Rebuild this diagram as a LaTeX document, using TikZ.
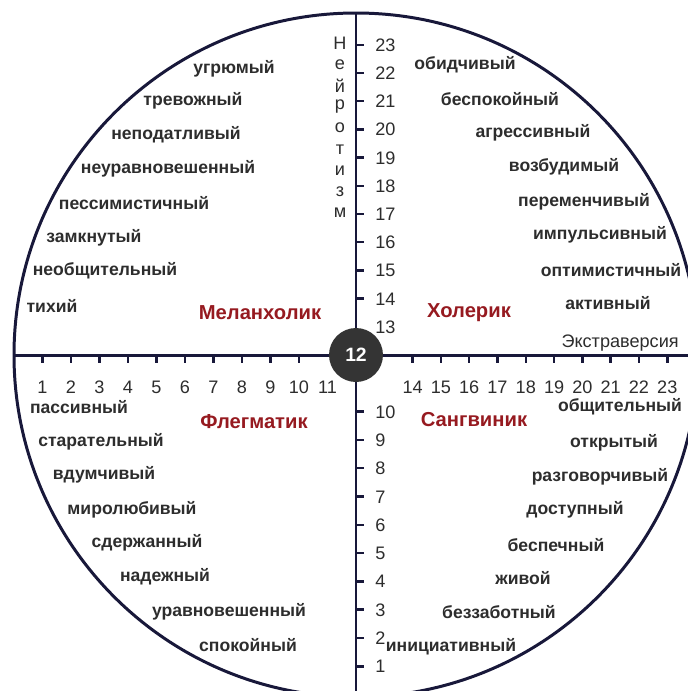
\documentclass[tikz,border=0pt]{standalone}
\usepackage{fontspec}
\setmainfont{Liberation Sans}
\definecolor{navy}{RGB}{24,24,58}
\definecolor{ink}{RGB}{45,45,45}
\definecolor{wine}{RGB}{150,26,32}
\definecolor{disc}{RGB}{52,52,52}
\usetikzlibrary{positioning}

\begin{document}
\begin{tikzpicture}[x=0.02cm,y=-0.02cm,
    trait/.style={text=ink,font=\fontsize{10}{12}\selectfont\bfseries,inner sep=0pt},
    temper/.style={text=wine,font=\fontsize{11.5}{13}\selectfont\bfseries,inner sep=0pt},
    num/.style={text=ink,font=\fontsize{10.3}{12}\selectfont,inner sep=0pt,
      text height=7.4pt,text depth=0pt},
    axis/.style={navy,line width=1.7pt},
    notch/.style={navy,line width=1.4pt}]

    \clip (0,0) rectangle (688,691);
    \fill[white] (0,0) rectangle (688,691);

    \draw[axis] (356,355) circle[radius=342];
    \draw[axis] (356,13) -- (356,697);
    \draw[axis] (14,355) -- (698,355);

    % scale of neuroticism
    \foreach \v in {14,...,23}
      \draw[notch] (356,{355-(\v-12)*28.2}) -- ++(8,0);
    \foreach \v in {13,...,23}
      \node[num,anchor=west] (ny\v) at (375,{355-(\v-12)*28.2}) {\v};
    \foreach \v in {1,...,10}{
      \draw[notch] (356,{355+(12-\v)*28.3}) -- ++(8,0);
      \node[num,anchor=west] (ny\v) at (375,{355+(12-\v)*28.3}) {\v};
    }
    \foreach \c [count=\i] in {Н,е,й,р,о,т,и,з,м}
      \node[num,text height=,text depth=] (nl\i) at (340,{43+(\i-1)*21.25}) {\c};

    % scale of extraversion
    \foreach \v in {1,...,10}
      \draw[notch] ({356-(12-\v)*28.5},355) -- ++(0,8);
    \foreach \v in {1,...,11}
      \node[num] (nx\v) at ({356-(12-\v)*28.5},387) {\v};
    \foreach \v in {14,...,23}{
      \draw[notch] ({356+(\v-12)*28.3},355) -- ++(0,8);
      \node[num] (nx\v) at ({356+(\v-12)*28.3},387) {\v};
    }
    \node[num,anchor=east,text height=,text depth=] (extra) at (679,343) {Экстраверсия};

    \node[circle,fill=disc,minimum size=1.08cm,inner sep=0pt,text=white,
      font=\fontsize{11}{13}\selectfont\bfseries] (mid) at (356,355) {12};

    \node[temper] (melan) at (260,313) {Меланхолик};
    \node[temper] (chol) at (469,313) {Холерик};
    \node[temper] (phleg) at (254,422) {Флегматик};
    \node[temper] (sang) at (474,420) {Сангвиник};

    \node[trait] (m1) at (234,69) {угрюмый};
    \node[trait] (m2) at (193,101) {тревожный};
    \node[trait] (m3) at (176,135) {неподатливый};
    \node[trait] (m4) at (168,169) {неуравновешенный};
    \node[trait] (m5) at (134,203) {пессимистичный};
    \node[trait] (m6) at (94,238) {замкнутый};
    \node[trait] (m7) at (105,271) {необщительный};
    \node[trait] (m8) at (52,306) {тихий};

    \node[trait] (c1) at (465,65) {обидчивый};
    \node[trait] (c2) at (500,99) {беспокойный};
    \node[trait] (c3) at (533,133) {агрессивный};
    \node[trait] (c4) at (564,167) {возбудимый};
    \node[trait] (c5) at (584,202) {переменчивый};
    \node[trait] (c6) at (600,235) {импульсивный};
    \node[trait] (c7) at (611,270) {оптимистичный};
    \node[trait] (c8) at (608,303) {активный};

    \node[trait] (p1) at (79,407) {пассивный};
    \node[trait] (p2) at (101,442) {старательный};
    \node[trait] (p3) at (104,475) {вдумчивый};
    \node[trait] (p4) at (132,510) {миролюбивый};
    \node[trait] (p5) at (147,543) {сдержанный};
    \node[trait] (p6) at (165,577) {надежный};
    \node[trait] (p7) at (229,612) {уравновешенный};
    \node[trait] (p8) at (248,645) {спокойный};

    \node[trait] (s1) at (620,407) {общительный};
    \node[trait] (s2) at (614,443) {открытый};
    \node[trait] (s3) at (600,477) {разговорчивый};
    \node[trait] (s4) at (575,510) {доступный};
    \node[trait] (s5) at (556,545) {беспечный};
    \node[trait] (s6) at (523,578) {живой};
    \node[trait] (s7) at (499,612) {беззаботный};
    \node[trait] (s8) at (451,647) {инициативный};

\end{tikzpicture}
\end{document}
